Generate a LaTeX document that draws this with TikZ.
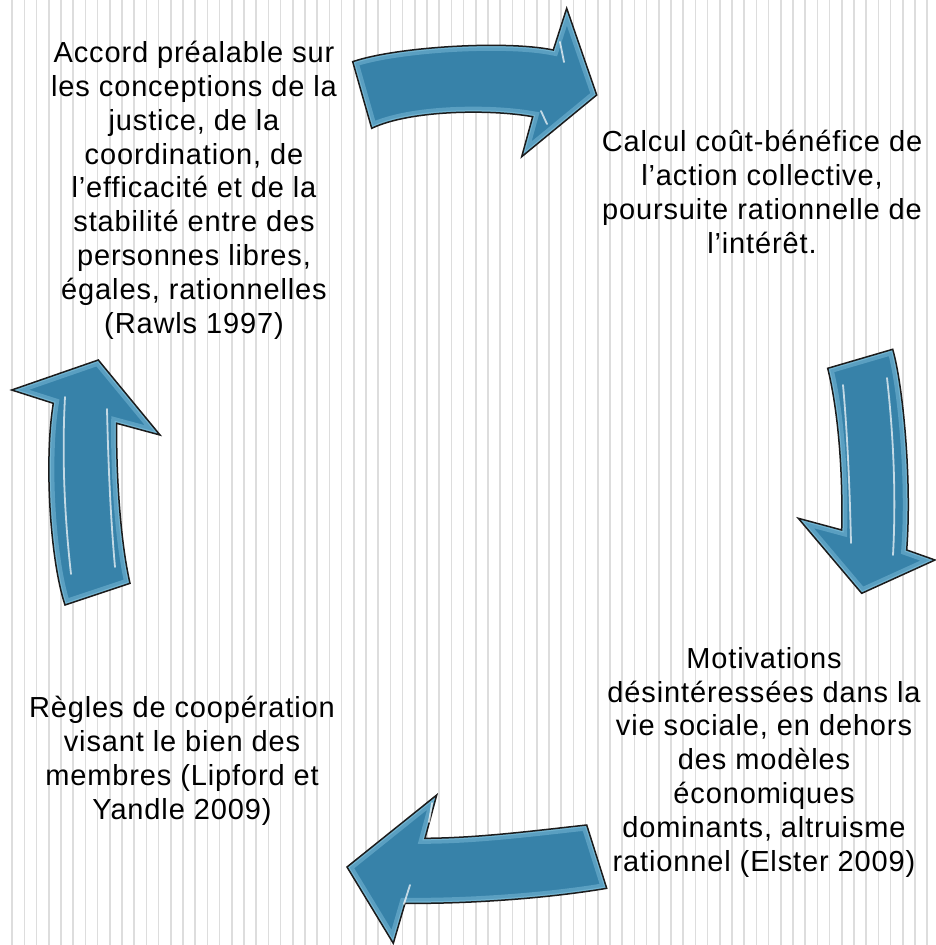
\documentclass[tikz,border=0pt]{standalone}
\usepackage{fontspec}
\newfontfamily\lblfamily{Liberation Sans}[LetterSpace=3]
\definecolor{arrowfill}{HTML}{3782A9}
\definecolor{arrowrim}{HTML}{7DBDD8}
\definecolor{arrowline}{HTML}{1C1C1C}
\definecolor{stripe}{HTML}{DDDDDD}
\tikzset{
  lbl/.style={align=center, font=\lblfamily\fontsize{29}{33.8}\selectfont, inner sep=0pt, anchor=base, text=black},
  gloss/.style={white, opacity=0.7, line width=1.8pt, line cap=round},
  pathtop/.style={insert path={(352.7,61.7) .. controls (395,47) and (505,40) .. (553.3,50) -- (566.7,8.3) -- (596.7,95) -- (521.7,156.7) -- (532.7,116.7) .. controls (490,109) and (410,110) .. (371.7,128.3) -- cycle}},
  pathright/.style={insert path={(827.7,368.3) -- (892.7,349.3) .. controls (903,385) and (912,480) .. (906.7,550) -- (935,560) -- (861.7,593.3) -- (798.3,518.3) -- (841.7,530) .. controls (843,470) and (838,410) .. (827.7,368.3) -- cycle}},
  pathbottom/.style={insert path={(586.7,825) .. controls (540,830) and (480,838) .. (425,838.3) -- (436.7,795) -- (347,867) -- (393.3,943.3) -- (405,903.3) .. controls (470,904) and (550,898) .. (606.7,888.3) -- cycle}},
  pathleft/.style={insert path={(65,605) -- (130,583.3) .. controls (120,540) and (116,470) .. (116.7,423.3) -- (160,435) -- (98.3,360) -- (11.7,390) -- (53.3,403.3) .. controls (44,460) and (50,560) .. (65,605) -- cycle}}
}
\newcommand\glossyarrow[1]{%
  \begin{scope}
    \path[clip,#1];
    \fill[arrowfill,#1];
    \draw[arrowrim!50!arrowfill, line width=11pt,#1];
    \draw[arrowrim!85!arrowfill, line width=4pt,#1];
  \end{scope}
  \draw[arrowline, line width=1.5pt, line join=miter,#1];
}
\begin{document}
\begin{tikzpicture}[x=1pt,y=-1pt]
\useasboundingbox (0,0) rectangle (935,945);
\fill[white] (0,0) rectangle (935,945);
\foreach \i in {1,...,76} \draw[stripe, line width=1.6pt] (12.2*\i,0) -- (12.2*\i,945);

% arrows
\glossyarrow{pathtop}
\glossyarrow{pathright}
\glossyarrow{pathbottom}
\glossyarrow{pathleft}

% glossy streaks
\draw[gloss] (560,42) -- (564,62);
\draw[gloss] (541,111) -- (547,124);
\draw[gloss] (843,385) .. controls (848,440) and (850,500) .. (851,543);
\draw[gloss] (887,378) .. controls (894,440) and (896,500) .. (893,555);
\draw[gloss] (432,803) -- (429,822);
\draw[gloss] (410,885) -- (404,904);
\draw[gloss] (115,567) .. controls (110,512) and (108,452) .. (107,409);
\draw[gloss] (71,574) .. controls (64,512) and (62,452) .. (65,397);

% labels (anchor = baseline of the last line)
\node[lbl] (accord) at (194,333) {Accord préalable sur\\les conceptions de la\\justice, de la\\coordination, de\\l’efficacité et de la\\stabilité entre des\\personnes libres,\\égales, rationnelles\\(Rawls 1997)};
\node[lbl] (calcul) at (762,253) {Calcul coût-bénéfice de\\l’action collective,\\poursuite rationnelle de\\l’intérêt.};
\node[lbl] (motiv) at (764,871) {Motivations\\désintéressées dans la\\vie sociale, en dehors\\des modèles\\économiques\\dominants, altruisme\\rationnel (Elster 2009)};
\node[lbl] (regles) at (182,819) {Règles de coopération\\visant le bien des\\membres (Lipford et\\Yandle 2009)};
\end{tikzpicture}
\end{document}
